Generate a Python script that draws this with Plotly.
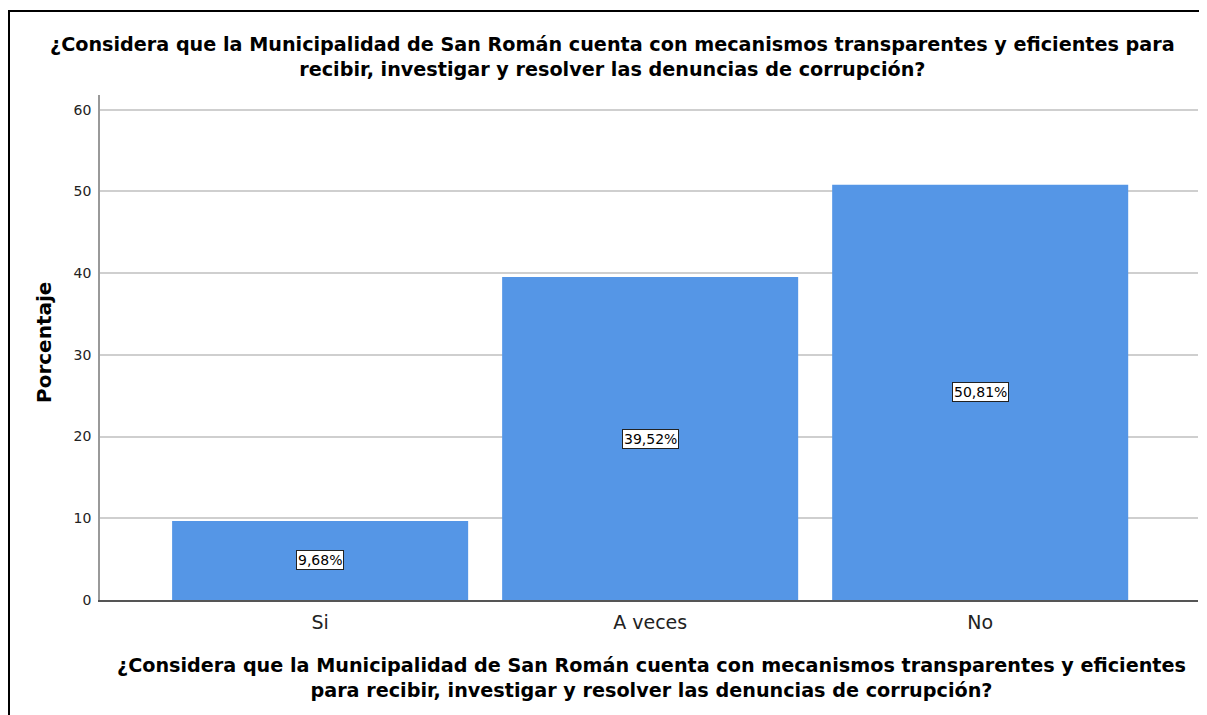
import plotly.graph_objects as go

categories = ["Si", "A veces", "No"]
values = [9.68, 39.52, 50.81]
labels = ["9,68%", "39,52%", "50,81%"]
y_ticks = [0, 10, 20, 30, 40, 50, 60]

title = ("¿Considera que la Municipalidad de San Román cuenta con mecanismos transparentes y eficientes para<br>"
         "recibir, investigar y resolver las denuncias de corrupción?")
xtitle = ("¿Considera que la Municipalidad de San Román cuenta con mecanismos transparentes y eficientes<br>"
          "para recibir, investigar y resolver las denuncias de corrupción?")

OFF = 8  # page body offset
W, H = 1207 - OFF, 715 - OFF
L, R, T, B = 100 - OFF, 9, 95 - OFF, 115
pw, ph = W - L - R, H - T - B

FONT = "DejaVu Sans, Verdana, sans-serif"

def px(x):
    return (x - OFF - L) / pw

def py(y):
    return (H - B - (y - OFF)) / ph

fig = go.Figure(go.Bar(
    x=list(range(len(categories))), y=values, width=0.897,
    marker=dict(color="#5596E6", line=dict(width=0)),
    hoverinfo="skip",
))

for i, (v, lab) in enumerate(zip(values, labels)):
    fig.add_annotation(x=i, y=v / 2, text=lab, showarrow=False,
                       font=dict(family=FONT, size=14, color="black"),
                       bgcolor="white", bordercolor="#222", borderwidth=1, borderpad=1)

fig.add_annotation(x=px(612), y=py(57), xref="paper", yref="paper", text="<b>" + title + "</b>",
                   showarrow=False, xanchor="center", yanchor="middle",
                   font=dict(family=FONT, size=19.2, color="black"))
fig.add_annotation(x=px(651), y=py(678), xref="paper", yref="paper", text="<b>" + xtitle + "</b>",
                   showarrow=False, xanchor="center", yanchor="middle",
                   font=dict(family=FONT, size=19.2, color="black"))
fig.add_annotation(x=px(44), y=py(342), xref="paper", yref="paper", text="<b>Porcentaje</b>",
                   showarrow=False, textangle=-90, xanchor="center", yanchor="middle",
                   font=dict(family=FONT, size=20, color="black"))

# frame
fig.add_shape(type="line", xref="paper", yref="paper", x0=px(9), x1=px(9), y0=py(11), y1=py(725),
              line=dict(color="black", width=2))
fig.add_shape(type="line", xref="paper", yref="paper", x0=px(8), x1=px(1220), y0=py(11), y1=py(11),
              line=dict(color="black", width=2))

fig.update_layout(
    width=W, height=H,
    margin=dict(l=L, r=R, t=T, b=B),
    paper_bgcolor="white", plot_bgcolor="white",
    showlegend=False,
    font=dict(family=FONT, color="black"),
    xaxis=dict(range=[-0.667, 2.66], tickmode="array", tickvals=list(range(len(categories))),
               ticktext=categories, showgrid=False, zeroline=False, showline=True,
               linecolor="#555", linewidth=1.5, ticks="", ticklabelstandoff=4,
               tickfont=dict(family=FONT, size=19, color="#222")),
    yaxis=dict(range=[0, 61.8], tickmode="array", tickvals=y_ticks, showgrid=True,
               gridcolor="#cfcfcf", gridwidth=1.5, zeroline=False, showline=True,
               linecolor="#999", linewidth=1.5, ticks="", ticklabelstandoff=4,
               tickfont=dict(family=FONT, size=14, color="#222")),
)

fig.write_html("out.html")
